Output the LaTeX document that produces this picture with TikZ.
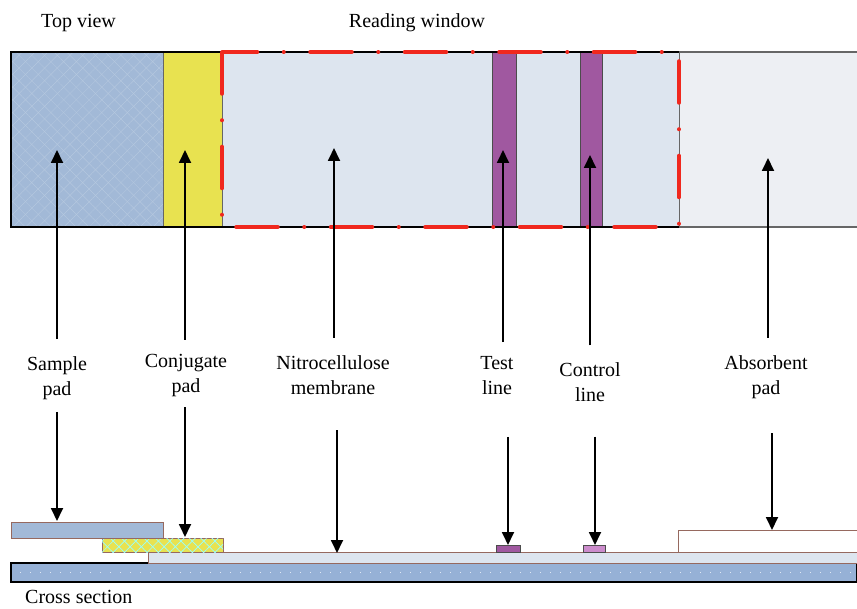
\documentclass[tikz,border=0pt]{standalone}
\usepackage{fontspec}
\setmainfont{Liberation Serif}
\usepackage{tikz}
\usetikzlibrary{arrows.meta,patterns.meta}

\definecolor{padblue}{RGB}{162,185,215}
\definecolor{backblue}{RGB}{150,177,214}
\definecolor{conjyellow}{RGB}{232,226,80}
\definecolor{ncblue}{RGB}{221,229,239}
\definecolor{absgray}{RGB}{237,239,243}
\definecolor{linepurple}{RGB}{160,88,160}
\definecolor{ctrlpurple}{RGB}{204,140,204}
\definecolor{winred}{RGB}{240,40,30}
\definecolor{edgebrown}{RGB}{150,105,95}

\tikzset{
  lbl/.style={align=center, font=\fontsize{20}{25}\selectfont, inner sep=0pt},
  arr/.style={-{Triangle[width=12pt,length=13pt]}, line width=1.8pt},
  layer/.style={draw=edgebrown, line width=0.8pt},
  window/.style={draw=winred, line width=3.5pt, line cap=round,
    dash pattern=on 42pt off 26pt on 0.5pt off 26pt}
}

\begin{document}
\begin{tikzpicture}[x=1pt,y=-1pt]
    \useasboundingbox (0,0) rectangle (857,609);
    % top view
    \fill[padblue] (11,52) rectangle (163,227);
    \fill[pattern={Lines[angle=45,distance=9pt,line width=0.3pt]}, pattern color=white!25!padblue] (11,52) rectangle (163,227);
    \fill[pattern={Lines[angle=-45,distance=9pt,line width=0.3pt]}, pattern color=white!25!padblue] (11,52) rectangle (163,227);
    \fill[conjyellow] (163,52) rectangle (222,227);
    \fill[ncblue] (222,52) rectangle (679,227);
    \fill[absgray] (679,52) rectangle (857,227);
    \filldraw[fill=linepurple, draw=black!70, line width=0.6pt] (492,52) rectangle (516,227);
    \filldraw[fill=linepurple, draw=black!70, line width=0.6pt] (580,52) rectangle (602,227);
    \draw[black!60, line width=0.7pt] (163,52) -- (163,227) (222,52) -- (222,227) (679,52) -- (679,227);
    \draw[black!60, line width=1.4pt] (679,52) -- (857,52) (679,227) -- (857,227);
    \draw[line width=2.5pt] (679,52) -- (11,52) -- (11,227) -- (679,227);
    \draw[window] (222,52) rectangle (679,227);

    % labels
    \node[lbl, anchor=base west] (top) at (41,28) {Top view};
    \node[lbl, anchor=base] (rw) at (417,28) {Reading window};
    \node[lbl, anchor=base west] (cs) at (25,603) {Cross section};
    \node[lbl] (sp) at (57,378) {Sample\\pad};
    \node[lbl] (cp) at (186,376) {Conjugate\\pad};
    \node[lbl] (nc) at (333,375.5) {Nitrocellulose\\membrane};
    \node[lbl] (tl) at (497,375.5) {Test\\line};
    \node[lbl] (cl) at (590,382) {Control\\line};
    \node[lbl] (ap) at (766,377.5) {Absorbent\\pad};

    % arrow tips
    \coordinate (sp1) at (57,150);  \coordinate (sp2) at (57,521);
    \coordinate (cp1) at (185,150); \coordinate (cp2) at (185,537);
    \coordinate (nc1) at (334,148); \coordinate (nc2) at (337,553);
    \coordinate (tl1) at (503,150); \coordinate (tl2) at (508,545);
    \coordinate (cl1) at (590,155); \coordinate (cl2) at (595,545);
    \coordinate (ap1) at (768,158); \coordinate (ap2) at (772,530);

    % cross section
    \filldraw[fill=backblue, draw=black, line width=2pt] (11,563) rectangle (857,582);
    \draw[white!70!backblue, line width=1pt, dash pattern=on 1pt off 9pt] (20,572) -- (857,572);
    \filldraw[layer, fill=ncblue] (148,552) rectangle (857,563);
    \filldraw[layer, fill=conjyellow] (102,538) rectangle (223,552);
    \fill[pattern={Lines[angle=45,distance=8pt,line width=0.7pt]}, pattern color=cyan!40!white] (102,538) rectangle (223,552);
    \fill[pattern={Lines[angle=-45,distance=8pt,line width=0.7pt]}, pattern color=cyan!40!white] (102,538) rectangle (223,552);
    \filldraw[layer, fill=padblue] (11,522) rectangle (163,538);
    \filldraw[layer, draw=black!70, fill=linepurple] (496,545) rectangle (520,552);
    \filldraw[layer, draw=black!70, fill=ctrlpurple] (583,545) rectangle (605,552);
    \filldraw[layer, fill=white] (678,552) -- (678,530) -- (857,530) -- (857,552);

    \draw[arr, shorten <=17pt] (sp.north -| sp1) -- (sp1);
    \draw[arr, shorten <=12pt] (sp.south -| sp2) -- (sp2);
    \draw[arr, shorten <=15pt] (cp.north -| cp1) -- (cp1);
    \draw[arr, shorten <=10pt] (cp.south -| cp2) -- (cp2);
    \draw[arr, shorten <=18pt] (nc.north -| nc1) -- (nc1);
    \draw[arr, shorten <=35pt] (nc.south -| nc2) -- (nc2);
    \draw[arr, shorten <=14pt] (tl.north -| tl1) -- (tl1);
    \draw[arr, shorten <=42pt] (tl.south -| tl2) -- (tl2);
    \draw[arr, shorten <=17pt] (cl.north -| cl1) -- (cl1);
    \draw[arr, shorten <=35pt] (cl.south -| cl2) -- (cl2);
    \draw[arr, shorten <=18pt] (ap.north -| ap1) -- (ap1);
    \draw[arr, shorten <=34pt] (ap.south -| ap2) -- (ap2);
\end{tikzpicture}
\end{document}
